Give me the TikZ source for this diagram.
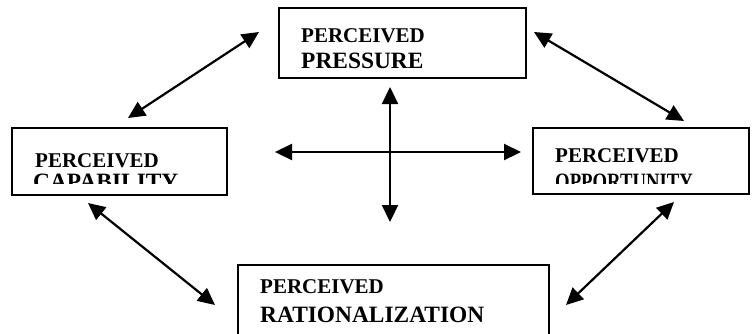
\documentclass[tikz,border=0pt]{standalone}
\usepackage{fontspec}
\setmainfont{Liberation Serif}
\usetikzlibrary{arrows.meta}
\begin{document}
\begin{tikzpicture}[x=1pt,y=-1pt,
  box/.style={draw, line width=2pt, inner sep=0pt},
  lbl/.style={anchor=base west, inner sep=0pt, font=\bfseries\fontsize{21}{21}\selectfont},
  big/.style={anchor=base west, inner sep=0pt, font=\bfseries\fontsize{23.4}{23.4}\selectfont},
  link/.style={line width=2.2pt, {Triangle[length=17pt,width=16pt]}-{Triangle[length=17pt,width=16pt]}}]
\useasboundingbox (0,0) rectangle (752,333);
\clip (0,0) rectangle (752,333);
% boxes
\node[box, minimum width=247pt, minimum height=70pt] (pres) at (402.5,43) {};
\node[box, minimum width=215pt, minimum height=67pt] (capa) at (119.5,161.5) {};
\node[box, minimum width=216pt, minimum height=66pt] (oppo) at (641,161) {};
\node[box, minimum width=311pt, minimum height=80pt] (rati) at (393.5,305) {};
% texts
\node[lbl] (presT1) at (301,42) {PERCEIVED};
\node[big] (presT2) at (301,68.5) {PRESSURE};
\node[lbl] (capaT1) at (35,167) {PERCEIVED};
\begin{scope}
\clip (12,128) rectangle (227,183.5);
\node[big] (capaT2) at (33,189) {CAPABILITY};
\end{scope}
\node[lbl] (oppoT1) at (555,162) {PERCEIVED};
\begin{scope}
\clip (533,128) rectangle (749,183.5);
\node[big] (oppoT2) at (555,189) {\scalebox{0.8}[1]{OPPORTUNITY}};
\end{scope}
\node[lbl] (ratiT1) at (260,293) {PERCEIVED};
\node[big] (ratiT2) at (260,322) {RATIONALIZATION};
% connector ends
\coordinate (pc1) at (259,32);
\coordinate (pc2) at (128,118);
\coordinate (po1) at (534,32);
\coordinate (po2) at (684,121);
\coordinate (cr1) at (88,203);
\coordinate (cr2) at (215,305);
\coordinate (or1) at (674,202);
\coordinate (or2) at (566,305);
\coordinate (hl) at (275,152);
\coordinate (hr) at (521,152);
\coordinate (vt) at (390,87);
\coordinate (vb) at (390,222);
% connectors
\draw[link] (pc1) -- (pc2);
\draw[link] (po1) -- (po2);
\draw[link] (cr1) -- (cr2);
\draw[link] (or1) -- (or2);
\draw[link] (hl) -- (hr);
\draw[link] (vt) -- (vb);
\end{tikzpicture}
\end{document}
